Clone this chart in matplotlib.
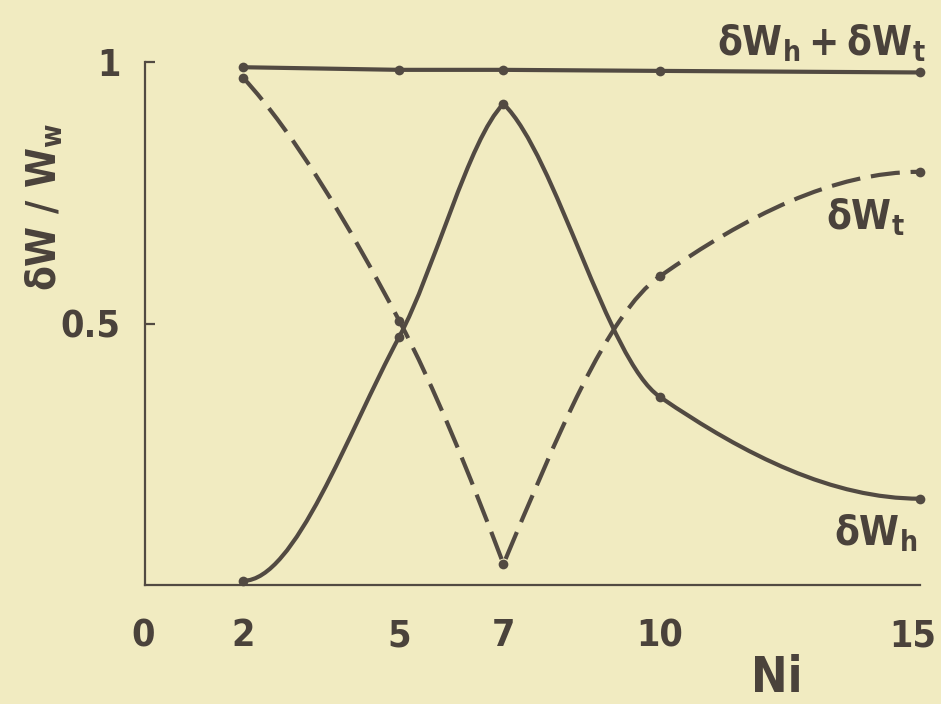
import numpy as np
import matplotlib
matplotlib.use("Agg")
import matplotlib.pyplot as plt
from matplotlib.path import Path
from matplotlib.patches import PathPatch
from matplotlib.font_manager import FontProperties, fontManager
from matplotlib.transforms import ScaledTranslation

# ---------------- data ----------------
N = [2, 5, 7, 10, 15]
dW_h = [0.008, 0.475, 0.92, 0.36, 0.165]
dW_t = [0.97, 0.505, 0.04, 0.59, 0.79]
dW_sum = [0.99, 0.985, 0.985, 0.983, 0.98]

xtick_vals = [0, 2, 5, 7, 10, 15]
xtick_labels = ["0", "2", "5", "7", "10", "15"]
ytick_vals = [0.5, 1]
ytick_labels = ["0.5", "1"]

# ---------------- style ----------------
BG = "#f1ebc1"
INK = "#524a42"
TXT = "#4a423b"

# look for a condensed bold face (the original lettering is narrow)
_cond = []
for f in fontManager.ttflist:
    st = str(f.stretch)
    try:
        w = int(f.weight)
    except (TypeError, ValueError):
        w = 700 if "bold" in str(f.weight) else 400
    if ("condensed" in st or "narrow" in f.name.lower()) and w >= 600:
        _cond.append(f.name)
FAM, STRETCH = "DejaVu Sans", "normal"
for pref in ("DejaVu Sans", "Noto Sans", "Open Sans", "Roboto", "Liberation Sans Narrow", "Lato", "Inter"):
    if pref in _cond:
        FAM = pref
        STRETCH = "normal" if "Narrow" in pref else "condensed"
        break
CONDENSED = FAM != "DejaVu Sans" or STRETCH == "condensed"

_pat = FAM + ":bold" + (":stretch=condensed" if STRETCH == "condensed" else "")
plt.rcParams["mathtext.fontset"] = "custom"
for key in ("rm", "it", "bf", "sf"):
    plt.rcParams["mathtext." + key] = _pat
plt.rcParams["mathtext.default"] = "rm"
plt.rcParams["font.family"] = [FAM, "DejaVu Sans"]

TICK_SIZE = 27 if CONDENSED else 25
LAB_SIZE = 29 if CONDENSED else 27
tick_font = FontProperties(family=[FAM, "DejaVu Sans"], weight="bold",
                           stretch=STRETCH, size=TICK_SIZE)


def _pchip_slopes(xs, ys):
    xs = np.asarray(xs, float)
    ys = np.asarray(ys, float)
    n = len(xs)
    h = np.diff(xs)
    d = np.diff(ys) / h
    if n == 2:
        return np.array([d[0], d[0]])
    m = np.zeros(n)
    for k in range(1, n - 1):
        if d[k - 1] * d[k] <= 0:
            m[k] = 0.0
        else:
            w1 = 2 * h[k] + h[k - 1]
            w2 = h[k] + 2 * h[k - 1]
            m[k] = (w1 + w2) / (w1 / d[k - 1] + w2 / d[k])

    def end(h0, h1, d0, d1):
        s = ((2 * h0 + h1) * d0 - h0 * d1) / (h0 + h1)
        if np.sign(s) != np.sign(d0):
            return 0.0
        if np.sign(d0) != np.sign(d1) and abs(s) > 3 * abs(d0):
            return 3 * d0
        return s

    m[0] = end(h[0], h[1], d[0], d[1])
    m[-1] = end(h[-1], h[-2], d[-1], d[-2])
    return m


def sketch_path(x, y, sharpness=1.0, flat_start=False):
    """Smooth hand-drawn style curve through the points (Bezier segments).
    sharpness: 1 -> pointed corner at extrema, 0 -> fully rounded."""
    n = len(x)
    cuts = [0]
    for i in range(1, n - 1):
        if (y[i] - y[i - 1]) * (y[i + 1] - y[i]) < 0:
            cuts.append(i)
    cuts.append(n - 1)
    verts = [(x[0], y[0])]
    codes = [Path.MOVETO]
    nrun = len(cuts) - 1
    for j, (a, b) in enumerate(zip(cuts[:-1], cuts[1:])):
        xs, ys = x[a:b + 1], y[a:b + 1]
        m = _pchip_slopes(xs, ys)
        if j > 0:
            m[0] *= sharpness
        if j < nrun - 1:
            m[-1] *= sharpness
        if j == 0 and flat_start:
            m[0] = 0.0
        for k in range(len(xs) - 1):
            hk = xs[k + 1] - xs[k]
            verts += [(xs[k] + hk / 3, ys[k] + m[k] * hk / 3),
                      (xs[k + 1] - hk / 3, ys[k + 1] - m[k + 1] * hk / 3),
                      (xs[k + 1], ys[k + 1])]
            codes += [Path.CURVE4] * 3
    return Path(verts, codes)


fig = plt.figure(figsize=(9.41, 7.04), dpi=100, facecolor=BG)
ax = fig.add_axes([139 / 941, 119 / 704, 781 / 941, 523 / 704])
ax.set_facecolor(BG)
ax.set_xlim(0, 15)
ax.set_ylim(0, 1)

for s in ("top", "right"):
    ax.spines[s].set_visible(False)
ax.spines["left"].set_position(("data", 0.12))
ax.spines["bottom"].set_bounds(0.12, 15)
for s in ("left", "bottom"):
    ax.spines[s].set_color(INK)
    ax.spines[s].set_linewidth(1.6)

# curves
ax.add_patch(PathPatch(sketch_path(N, dW_h, sharpness=0.4, flat_start=True),
                       fill=False, edgecolor=INK, lw=3, capstyle="round"))
ax.add_patch(PathPatch(sketch_path(N, dW_t, sharpness=1.0),
                       fill=False, edgecolor=INK, lw=3, linestyle=(0, (7, 2.6))))
ax.plot(N, dW_sum, color=INK, lw=3)

for series in (dW_h, dW_t, dW_sum):
    ax.plot(N, series, "o", color=INK, ms=7, mec="none", clip_on=False)

# ticks
ax.set_xticks(xtick_vals)
ax.set_xticklabels(xtick_labels, fontproperties=tick_font, color=TXT)
ax.tick_params(axis="x", which="major", length=0, pad=24)
ax.set_xticks([5, 7, 10, 15], minor=True)
ax.tick_params(axis="x", which="minor", direction="in", length=6, width=1.6, color=INK)
last = ax.get_xticklabels()[-1]
last.set_transform(last.get_transform() + ScaledTranslation(-7 / 100, 0, fig.dpi_scale_trans))
first = ax.get_xticklabels()[0]
first.set_transform(first.get_transform() + ScaledTranslation(4 / 100, 0, fig.dpi_scale_trans))

ax.set_yticks(ytick_vals)
ax.set_yticklabels(ytick_labels, fontproperties=tick_font, color=TXT)
ax.tick_params(axis="y", which="major", direction="in", length=7, width=1.6,
               color=INK, pad=18)

# labels
lab_kw = dict(color=TXT, fontsize=LAB_SIZE, clip_on=False)
ax.text(15.1, 1.013, r"$δW_h + δW_t$", ha="right", va="baseline", **lab_kw)
ax.text(14.71, 0.679, r"$δW_t$", ha="right", va="baseline", **lab_kw)
ax.text(14.94, 0.0765, r"$δW_h$", ha="right", va="baseline", **lab_kw)
ax.text(12.24, -0.205, "Ni", ha="center", va="baseline", color=TXT,
        fontsize=LAB_SIZE + 6, fontweight="bold", fontstretch=STRETCH, clip_on=False)
fig.text(45 / 941, 1 - 207 / 704, r"$δW\ /\ W_w$", rotation=90, ha="center",
         va="center", color=TXT, fontsize=LAB_SIZE)

fig.savefig("out.png", dpi=100, facecolor=BG)
